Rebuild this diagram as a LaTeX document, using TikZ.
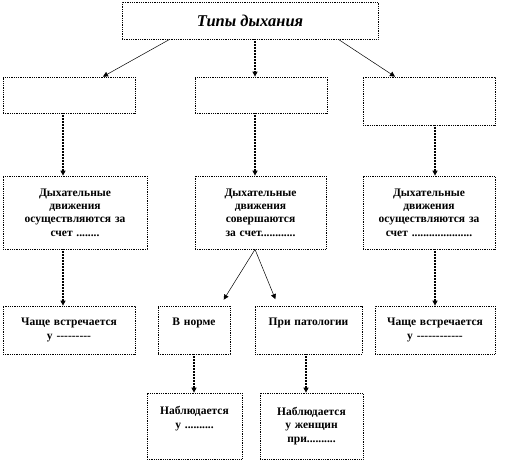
\documentclass[tikz,border=0pt]{standalone}
\usepackage{fontspec}
\setmainfont{Liberation Serif}
\usetikzlibrary{arrows.meta}

\tikzset{
    box/.style={draw, densely dotted, line width=.8pt, align=center, inner sep=2pt,
        font=\bfseries\fontsize{11.5}{13.3}\selectfont},
    arr/.style={-{Triangle[width=5pt,length=5pt]}, line width=.5pt},
    dotarr/.style={arr, densely dotted, line width=1.1pt}
}

\begin{document}
\begin{tikzpicture}[x=1pt,y=-1pt]

\useasboundingbox (0,0) rectangle (510,471);

\node[box, minimum width=256, minimum height=37, font=\bfseries\itshape\fontsize{16.5}{18}\selectfont] (types) at (250,20.5) {Типы дыхания};

\node[box, minimum width=132, minimum height=36] (a1) at (69,95) {};
\node[box, minimum width=132, minimum height=36] (a2) at (261,95) {};
\node[box, minimum width=132, minimum height=48] (a3) at (429,101) {};

\node[box, minimum width=144, minimum height=73, text width=134] (b1) at (75,212.5) {Дыхательные\\движения\\осуществляются за\\счет ........};
\node[box, minimum width=131, minimum height=73, text width=121] (b2) at (260.5,212.5) {Дыхательные\\движения\\совершаются\\за счет............};
\node[box, minimum width=132, minimum height=73, text width=122] (b3) at (429,212.5) {Дыхательные\\движения\\осуществляются за\\счет .....................};

\node[box, minimum width=132, minimum height=48, text width=122] (c1) at (69,330) {Чаще встречается\\у -{}-{}-{}-{}-{}-{}-{}-{}-};
\node[box, minimum width=72, minimum height=48, text width=66] (c2) at (194,330) {В норме\\\strut};
\node[box, minimum width=107, minimum height=48, text width=101] (c3) at (308.5,330) {При патологии\\\strut};
\node[box, minimum width=120, minimum height=48, text width=110] (c4) at (435,330) {Чаще встречается\\у -{}-{}-{}-{}-{}-{}-{}-{}-{}-{}-{}-};

\node[box, minimum width=95, minimum height=66, text width=89] (d1) at (194.5,426) {Наблюдается\\у ..........\\\strut};
\node[box, minimum width=103, minimum height=66, text width=97] (d2) at (311.5,426) {Наблюдается\\у женщин\\при..........};

% from the title
\draw[arr] ([xshift=48]types.south west) -- ([xshift=34]a1.north);
\draw[dotarr] ([xshift=5]types.south) -- ([xshift=-6]a2.north);
\draw[arr] ([xshift=-40]types.south east) -- ([xshift=-34]a3.north);

% second row down
\draw[dotarr] ([xshift=-6]a1.south) -- ([xshift=-12]b1.north);
\draw[dotarr] ([xshift=-6]a2.south) -- ([xshift=-5.5]b2.north);
\draw[dotarr] ([xshift=6]a3.south) -- ([xshift=6]b3.north);

% third row down
\draw[dotarr] ([xshift=-12]b1.south) -- ([xshift=-6]c1.north);
\draw[arr, shorten >=7pt] ([xshift=-5.5]b2.south) -- ([xshift=26]c2.north);
\draw[arr, shorten >=7pt] ([xshift=-5.5]b2.south) -- ([xshift=-30.5]c3.north);
\draw[dotarr] ([xshift=6]b3.south) -- (c4.north);

% last row
\draw[dotarr] (c2.south) -- ([xshift=-.5]d1.north);
\draw[dotarr] ([xshift=-2.5]c3.south) -- ([xshift=-5.5]d2.north);

\end{tikzpicture}
\end{document}
